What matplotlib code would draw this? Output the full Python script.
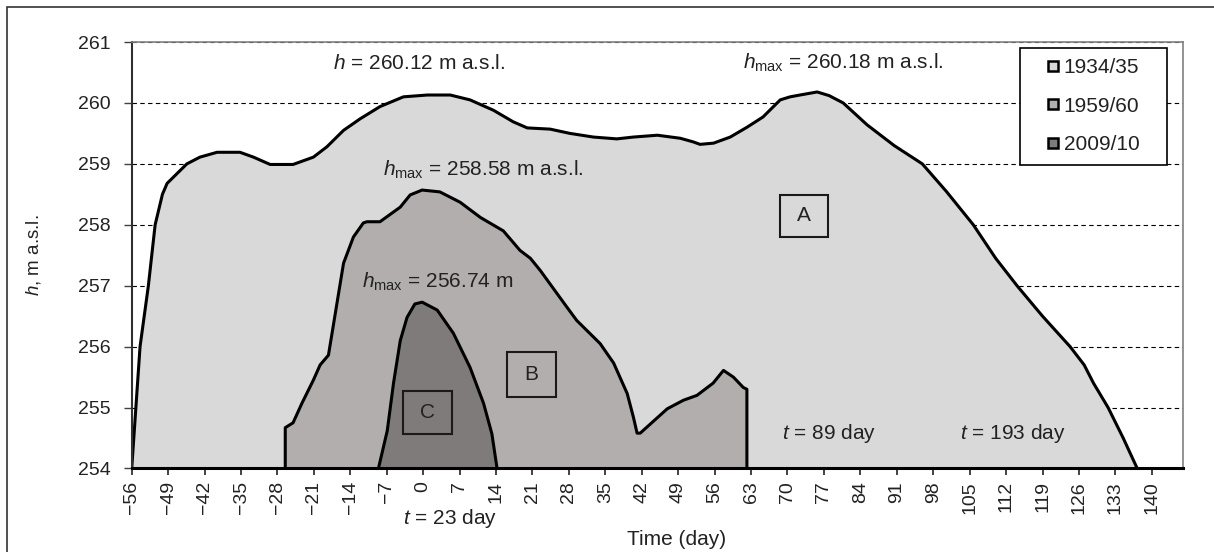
import matplotlib
matplotlib.use('Agg')
import matplotlib.pyplot as plt
from matplotlib.patches import Rectangle
from matplotlib.lines import Line2D

plt.rcParams['font.family'] = ['Liberation Sans', 'DejaVu Sans']
plt.rcParams['mathtext.fontset'] = 'custom'
plt.rcParams['mathtext.rm'] = 'Liberation Sans'
plt.rcParams['mathtext.it'] = 'Liberation Sans:italic'
plt.rcParams['mathtext.bf'] = 'Liberation Sans:bold'

# ---------------- data ----------------
series_labels = ['1934/35', '1959/60', '2009/10']

days_1934 = [-56, -55.2, -54.4, -52.8, -51.5, -50.1, -49.2, -47.3, -45.4, -42.9, -39.6,
             -35.2, -32.6, -29.4, -25.0, -21.1, -18.5, -15.3, -12.1, -8.3, -3.8,
             0.8, 5.2, 9.0, 13.5, 17.3, 20.0, 24.4, 28.2, 32.7, 37.2,
             40.4, 45.0, 49.4, 51.9, 53.2, 55.8, 59.0, 62.2, 65.3, 68.6,
             70.5, 72.4, 75.7, 78.0, 80.7, 85.3, 90.5, 95.9, 100.5, 105.7,
             110.0, 114.1, 119.0, 124.3, 127.0, 128.8, 131.6, 134.5, 137.2]
h_1934 = [254.0, 255.0, 256.0, 257.0, 258.0, 258.5, 258.68, 258.84, 259.0, 259.11, 259.19,
          259.19, 259.11, 258.99, 258.99, 259.11, 259.28, 259.55, 259.74, 259.94, 260.1,
          260.13, 260.13, 260.05, 259.88, 259.69, 259.59, 259.57, 259.5, 259.44, 259.41,
          259.44, 259.47, 259.42, 259.36, 259.32, 259.34, 259.44, 259.6, 259.77, 260.05,
          260.1, 260.13, 260.18, 260.12, 260.0, 259.64, 259.3, 259.0, 258.55, 258.0,
          257.45, 257.0, 256.5, 256.0, 255.7, 255.4, 255.0, 254.5, 254.0]

days_1959 = [-26.5, -26.5, -25.0, -23.3, -21.1, -19.8, -18.2, -15.3, -13.4, -11.5,
             -10.8, -8.3, -4.4, -2.5, -0.2, 3.2, 7.1, 11.0, 15.4, 18.6,
             20.6, 22.5, 27.6, 29.5, 34.0, 36.6, 39.2, 40.4, 41.1, 41.7,
             46.9, 50.0, 52.6, 55.7, 57.7, 59.6, 61.5, 62.2, 62.2]
h_1959 = [254.0, 254.67, 254.75, 255.07, 255.45, 255.7, 255.86, 257.37, 257.8, 258.03,
          258.05, 258.05, 258.29, 258.49, 258.57, 258.54, 258.37, 258.12, 257.9, 257.58,
          257.45, 257.25, 256.65, 256.43, 256.05, 255.73, 255.23, 254.84, 254.58, 254.58,
          254.98, 255.12, 255.2, 255.4, 255.61, 255.5, 255.33, 255.3, 254.0]

days_2009 = [-8.6, -6.9, -5.7, -4.4, -3.1, -1.6, -0.2, 2.7, 5.8, 9.0, 11.6, 13.2, 14.2]
h_2009 = [254.0, 254.62, 255.4, 256.1, 256.48, 256.7, 256.73, 256.6, 256.22, 255.66,
          255.07, 254.57, 254.0]

x_ticks = list(range(-56, 141, 7))
y_ticks = list(range(254, 262))

fill_colors = ['#d9d9d9', '#b2aeae', '#7f7b7b']

# ---------------- figure ----------------
fig = plt.figure(figsize=(12.14, 5.52), dpi=100)
ax = fig.add_axes([0.1085, 0.1513, 0.8660, 0.7726])

series = [(days_1934, h_1934), (days_1959, h_1959), (days_2009, h_2009)]
for i, (d, h) in enumerate(series):
    ax.fill(d, h, color=fill_colors[i], zorder=2 + i, lw=0)
    ax.plot(d, h, color='black', lw=2.2, zorder=2.5 + i,
            solid_joinstyle='round', solid_capstyle='round')

ax.set_xlim(-56, 146)
ax.set_ylim(254, 261)
ax.set_xticks(x_ticks)
ax.set_yticks(y_ticks)

ax.set_axisbelow(True)
ax.yaxis.grid(True, linestyle=(0, (4, 3)), color='black', lw=0.8)

for s in ['top', 'right']:
    ax.spines[s].set_color('#808080')
    ax.spines[s].set_linewidth(1.2)
ax.spines['left'].set_color('#303030')
ax.spines['left'].set_linewidth(1.5)
ax.spines['bottom'].set_color('black')
ax.spines['bottom'].set_linewidth(2.2)
ax.spines['bottom'].set_zorder(6)

ax.tick_params(axis='y', direction='out', length=6, width=1, pad=9,
               labelsize=14, color='#404040', labelcolor='#222222')
ax.tick_params(axis='x', direction='out', length=5, width=1.2, pad=4,
               labelsize=14, labelrotation=90, color='#222222', labelcolor='#222222')

ax.set_ylabel(r'$h$, m a.s.l.', fontsize=13.5, color='#222222')
ax.yaxis.set_label_coords(-0.084, 0.5)
ax.set_xlabel('Time (day)', fontsize=15, color='#222222')
ax.xaxis.set_label_coords(0.518, -0.145)

# annotations
tc = '#222222'
fs = 15
ax.text(-17.3, 260.65, r'$h$ = 260.12 m a.s.l.', fontsize=fs, ha='left', va='center', color=tc, zorder=10)
ax.text(61.5, 260.65, r'$h_{\mathrm{max}}$ = 260.18 m a.s.l.', fontsize=fs, ha='left', va='center', color=tc, zorder=10)
ax.text(-7.7, 258.9, r'$h_{\mathrm{max}}$ = 258.58 m a.s.l.', fontsize=fs, ha='left', va='center', color=tc, zorder=10)
ax.text(-11.8, 257.06, r'$h_{\mathrm{max}}$ = 256.74 m', fontsize=fs, ha='left', va='center', color=tc, zorder=10)
ax.text(-3.8, 253.18, r'$t$ = 23 day', fontsize=fs, ha='left', va='center', color=tc, zorder=10)
ax.text(69.0, 254.58, r'$t$ = 89 day', fontsize=fs, ha='left', va='center', color=tc, zorder=10)
ax.text(103.2, 254.58, r'$t$ = 193 day', fontsize=fs, ha='left', va='center', color=tc, zorder=10)

# labelled boxes A, B, C
boxes = [('A', 68.6, 257.8, 9.2, 0.69), ('B', 16.1, 255.18, 9.4, 0.73), ('C', -3.9, 254.56, 9.5, 0.71)]
for lab, x0, y0, w, hgt in boxes:
    ax.add_patch(Rectangle((x0, y0), w, hgt, fill=False, ec='#1a1a1a', lw=1.5, zorder=9))
    ax.text(x0 + w / 2, y0 + hgt / 2, lab, fontsize=15, ha='center', va='center', color=tc, zorder=10)

# legend
handles = [Line2D([], [], marker='s', ls='none', ms=6.8, mfc=c, mec='black', mew=1.8)
           for c in fill_colors]
leg = ax.legend(handles, series_labels, loc='upper left',
                bbox_to_anchor=(0.845, 0.0, 0.1398, 0.986), mode='expand',
                borderaxespad=0, borderpad=0.5, handlelength=2.16, handletextpad=-0.57,
                labelspacing=0.93, fontsize=15, frameon=True, fancybox=False,
                edgecolor='black', framealpha=1, facecolor='white')
leg.get_frame().set_linewidth(1.2)
for t in leg.get_texts():
    t.set_color(tc)

# outer frame of the figure
fig.add_artist(Rectangle((7 / 1214, -0.05), 1.2, 1 - 7 / 552 + 0.05,
                         transform=fig.transFigure, fill=False, ec='#333333', lw=1.2))

fig.savefig('out.png', dpi=100)
